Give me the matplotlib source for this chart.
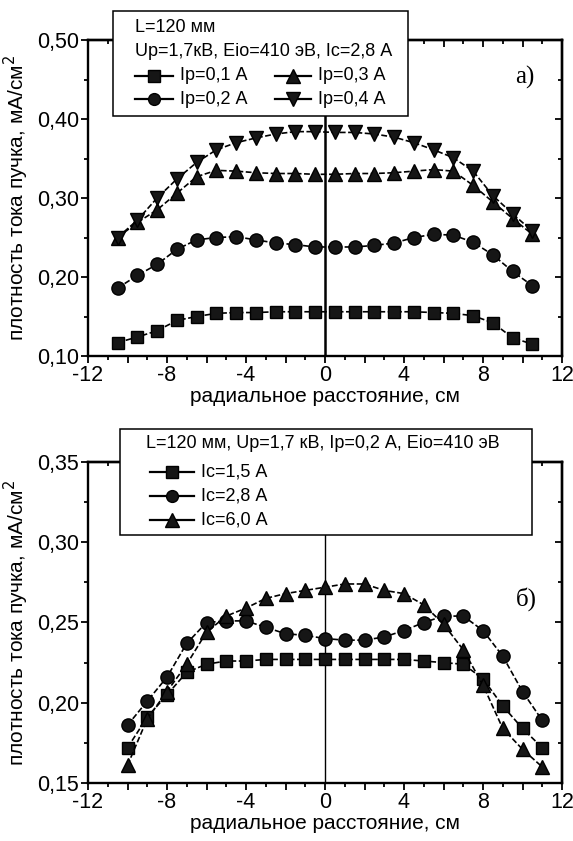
import numpy as np
import matplotlib
matplotlib.use("Agg")
from matplotlib import pyplot as plt
from matplotlib.ticker import MultipleLocator, FuncFormatter
from matplotlib.lines import Line2D
from matplotlib.patches import Rectangle

plt.rcParams['font.family'] = ['Liberation Sans', 'DejaVu Sans']

# --- a) current density vs radius for different Ip ---
x_a = [-10.5, -9.5, -8.5, -7.5, -6.5, -5.5, -4.5, -3.5, -2.5, -1.5, -0.5,
       0.5, 1.5, 2.5, 3.5, 4.5, 5.5, 6.5, 7.5, 8.5, 9.5, 10.5]
ip01 = [0.117, 0.124, 0.132, 0.145, 0.150, 0.154, 0.155, 0.155, 0.156, 0.156, 0.156,
        0.156, 0.156, 0.156, 0.156, 0.156, 0.155, 0.154, 0.151, 0.142, 0.123, 0.115]
ip02 = [0.186, 0.202, 0.216, 0.235, 0.247, 0.250, 0.251, 0.247, 0.243, 0.241, 0.238,
        0.238, 0.238, 0.240, 0.243, 0.250, 0.254, 0.253, 0.244, 0.228, 0.207, 0.189]
ip03 = [0.250, 0.269, 0.285, 0.306, 0.327, 0.335, 0.334, 0.332, 0.331, 0.331, 0.330,
        0.330, 0.331, 0.331, 0.332, 0.334, 0.336, 0.334, 0.316, 0.295, 0.274, 0.254]
ip04 = [0.250, 0.272, 0.300, 0.324, 0.345, 0.361, 0.370, 0.376, 0.381, 0.384, 0.384,
        0.383, 0.383, 0.381, 0.377, 0.370, 0.361, 0.351, 0.334, 0.303, 0.280, 0.258]
labels_a = ['Ip=0,1 А', 'Ip=0,2 А', 'Ip=0,3 А', 'Ip=0,4 А']
markers_a = ['s', 'o', '^', 'v']
title_a = ['L=120 мм', 'Up=1,7кВ, Eio=410 эВ, Ic=2,8 А']

# --- б) current density vs radius for different Ic ---
x_b = [-10, -9, -8, -7, -6, -5, -4, -3, -2, -1, 0, 1, 2, 3, 4, 5, 6, 7, 8, 9, 10, 11]
ic15 = [0.172, 0.191, 0.205, 0.219, 0.224, 0.226, 0.226, 0.227, 0.227, 0.227, 0.227,
        0.227, 0.227, 0.227, 0.227, 0.226, 0.225, 0.224, 0.215, 0.198, 0.184, 0.172]
ic28 = [0.186, 0.201, 0.216, 0.237, 0.250, 0.251, 0.251, 0.247, 0.243, 0.242, 0.240,
        0.239, 0.239, 0.241, 0.245, 0.250, 0.254, 0.254, 0.245, 0.229, 0.207, 0.189]
ic60 = [0.161, 0.190, 0.207, 0.224, 0.244, 0.254, 0.259, 0.265, 0.268, 0.270, 0.272,
        0.274, 0.274, 0.270, 0.268, 0.261, 0.249, 0.233, 0.211, 0.184, 0.171, 0.160]
labels_b = ['Ic=1,5 А', 'Ic=2,8 А', 'Ic=6,0 А']
markers_b = ['s', 'o', '^']
title_b = ['L=120 мм, Up=1,7 кВ, Ip=0,2 А, Eio=410 эВ']

W, H = 573, 841
fig = plt.figure(figsize=(W / 100, H / 100), dpi=100)
MS = {'s': 9, 'o': 9.5, '^': 10.5, 'v': 10.5}


def fx(x):
    return x / W


def fy(y):
    return 1 - y / H


def px_axes(left, top, right, bottom):
    return fig.add_axes([fx(left), fy(bottom), (right - left) / W, (bottom - top) / H])


def style_axes(ax, ylo, yhi, ymaj, ymin):
    ax.set_xlim(-12, 12)
    ax.set_ylim(ylo, yhi)
    ax.xaxis.set_major_locator(MultipleLocator(2))
    ax.xaxis.set_minor_locator(MultipleLocator(1))
    ax.xaxis.set_major_formatter(FuncFormatter(lambda v, p: '%d' % v if round(v) % 4 == 0 else ''))
    ax.yaxis.set_major_locator(MultipleLocator(ymaj))
    ax.yaxis.set_minor_locator(MultipleLocator(ymin))
    ax.yaxis.set_major_formatter(FuncFormatter(lambda v, p: ('%.2f' % v).replace('.', ',')))
    ax.tick_params(which='both', direction='out', width=1.3, labelsize=15.5, pad=1.5)
    ax.tick_params(which='major', length=5)
    ax.tick_params(which='minor', length=3)
    for spine in ax.spines.values():
        spine.set_linewidth(1.7)
    # inward ticks on top and right
    top = ax.secondary_xaxis('top')
    top.xaxis.set_major_locator(MultipleLocator(2))
    top.xaxis.set_minor_locator(MultipleLocator(1))
    right = ax.secondary_yaxis('right')
    right.yaxis.set_major_locator(MultipleLocator(ymaj))
    right.yaxis.set_minor_locator(MultipleLocator(ymin))
    for sec in (top, right):
        sec.tick_params(which='both', direction='in', width=1.3, labelleft=False,
                        labelright=False, labeltop=False, labelbottom=False)
        sec.tick_params(which='major', length=5)
        sec.tick_params(which='minor', length=3)
        for spine in sec.spines.values():
            spine.set_linewidth(1.7)
    ax.set_xlabel('радиальное расстояние, см', fontsize=15, labelpad=1)
    ax.set_ylabel('плотность тока пучка, мА/см$^2$', fontsize=15, labelpad=4)


def draw_series(ax, x, ys, markers):
    for y, m in zip(ys, markers):
        ax.plot(x, y, color='black', linestyle=(0, (3.5, 1.5)), linewidth=1.2,
                marker=m, markersize=MS[m], markerfacecolor='#161616',
                markeredgecolor='black', zorder=3)


def legend_box(box, title_lines, title_x, title_y, entries):
    x0, y0, x1, y1 = box
    fig.add_artist(Rectangle((fx(x0), fy(y1)), (x1 - x0) / W, (y1 - y0) / H,
                             transform=fig.transFigure, facecolor='white',
                             edgecolor='black', linewidth=1.1, zorder=5))
    for line, ty in zip(title_lines, title_y):
        fig.text(fx(title_x), fy(ty), line, fontsize=13, ha='left', va='center', zorder=6)
    for hx0, hx1, ty, m, lab in entries:
        fig.add_artist(Line2D([fx(hx0), fx(hx1)], [fy(ty), fy(ty)], transform=fig.transFigure,
                              color='black', linewidth=1.6, zorder=6))
        fig.add_artist(Line2D([fx((hx0 + hx1) / 2)], [fy(ty)], transform=fig.transFigure,
                              marker=m, markersize=MS[m] - 1, color='#161616',
                              markeredgecolor='black', linestyle='none', zorder=6))
        fig.text(fx(hx1 + 7), fy(ty), lab, fontsize=13, ha='left', va='center', zorder=6)


# top panel
ax1 = px_axes(88, 40, 562, 356)
style_axes(ax1, 0.10, 0.50, 0.10, 0.05)
ax1.axvline(0, color='black', linewidth=1.8, zorder=2)
draw_series(ax1, x_a, [ip01, ip02, ip03, ip04], markers_a)
ax1.text(0.943, 0.883, 'a)', transform=ax1.transAxes, ha='right', va='center',
         fontsize=18, family='Liberation Serif')
legend_box((113, 11, 408, 116), title_a, 135, [28, 52],
           [(135, 173, 76, markers_a[0], labels_a[0]),
            (135, 173, 99, markers_a[1], labels_a[1]),
            (275, 311, 76, markers_a[2], labels_a[2]),
            (275, 311, 99, markers_a[3], labels_a[3])])

# bottom panel
ax2 = px_axes(88, 462, 562, 783)
style_axes(ax2, 0.15, 0.35, 0.05, 0.025)
ax2.axvline(0, color='black', linewidth=1.0, zorder=2)
draw_series(ax2, x_b, [ic15, ic28, ic60], markers_b)
ax2.text(0.948, 0.572, 'б)', transform=ax2.transAxes, ha='right', va='center',
         fontsize=18, family='Liberation Serif')
legend_box((120, 429, 532, 535), title_b, 146, [444],
           [(150, 194, 472, markers_b[0], labels_b[0]),
            (150, 194, 496, markers_b[1], labels_b[1]),
            (150, 194, 520, markers_b[2], labels_b[2])])

fig.savefig('out.png', dpi=100)
